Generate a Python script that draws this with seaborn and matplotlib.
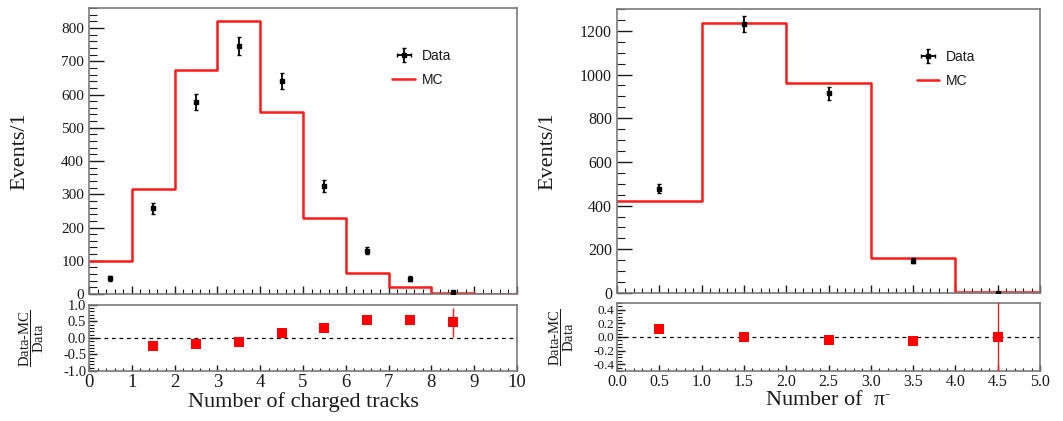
import numpy as np
import pandas as pd
import matplotlib
matplotlib.use("Agg")
import matplotlib.pyplot as plt
import seaborn as sns
from matplotlib.ticker import MultipleLocator, FormatStrFormatter

# ---------------- data ----------------
trk_edges = [0, 1, 2, 3, 4, 5, 6, 7, 8, 9, 10]
trk_centers = [0.5, 1.5, 2.5, 3.5, 4.5, 5.5, 6.5, 7.5, 8.5, 9.5]
trk_mc = [100, 316, 675, 820, 548, 230, 62, 20, 3, 1]
trk_data_x = [0.5, 1.5, 2.5, 3.5, 4.5, 5.5, 6.5, 7.5, 8.5]
trk_data = [47, 258, 578, 745, 641, 324, 130, 46, 6]
trk_data_err = [7, 16, 24, 27, 25, 18, 11, 7, 2.5]
trk_ratio_x = [1.5, 2.5, 3.5, 4.5, 5.5, 6.5, 7.5, 8.5]
trk_ratio = [-0.23, -0.17, -0.12, 0.14, 0.29, 0.53, 0.54, 0.47]
trk_ratio_err = [0.03, 0.03, 0.03, 0.04, 0.05, 0.06, 0.10, 0.45]

pi_edges = [0, 1, 2, 3, 4, 5]
pi_centers = [0.5, 1.5, 2.5, 3.5, 4.5]
pi_mc = [420, 1237, 962, 158, 3]
pi_data_x = [0.5, 1.5, 2.5, 3.5, 4.5]
pi_data = [478, 1232, 915, 148, 2]
pi_data_err = [22, 35, 30, 12, 1.5]
pi_ratio_x = [0.5, 1.5, 2.5, 3.5, 4.5]
pi_ratio = [0.12, 0.0, -0.04, -0.06, 0.0]
pi_ratio_err = [0.02, 0.02, 0.03, 0.06, 0.7]

# ---------------- style ----------------
sns.set_theme(style="white")
plt.rcParams["font.family"] = ["Liberation Serif", "DejaVu Serif"]
plt.rcParams["mathtext.fontset"] = "custom"
plt.rcParams["mathtext.rm"] = "Liberation Serif"
plt.rcParams["mathtext.it"] = "Liberation Serif:italic"
TXT = "#1a1a1a"
SPINE = "#7a7a7a"

fig = plt.figure(figsize=(10.63, 4.21), dpi=100)
axL = fig.add_axes([0.0837, 0.3017, 0.4026, 0.679])
axLr = fig.add_axes([0.0837, 0.1188, 0.4026, 0.157])
axR = fig.add_axes([0.5804, 0.304, 0.398, 0.6746])
axRr = fig.add_axes([0.5804, 0.1188, 0.398, 0.1615])


def style_axes(ax, xmaj, xmin, ymaj, ymin, xmj_len, xmn_len, ymj_len, ymn_len):
    for s in ax.spines.values():
        s.set_color(SPINE)
        s.set_linewidth(1.2)
    ax.xaxis.set_major_locator(MultipleLocator(xmaj))
    ax.xaxis.set_minor_locator(MultipleLocator(xmin))
    ax.yaxis.set_major_locator(MultipleLocator(ymaj))
    ax.yaxis.set_minor_locator(MultipleLocator(ymin))
    ax.tick_params(axis="x", which="major", direction="in", length=xmj_len, width=1, color=TXT,
                   top=False, bottom=True, colors=TXT)
    ax.tick_params(axis="x", which="minor", direction="in", length=xmn_len, width=0.8, color=TXT,
                   top=False, bottom=True)
    ax.tick_params(axis="y", which="major", direction="in", length=ymj_len, width=1, color=TXT,
                   left=True, right=False, colors=TXT)
    ax.tick_params(axis="y", which="minor", direction="in", length=ymn_len, width=0.8, color=TXT,
                   left=True, right=False)


def draw_main(ax, edges, centers, mc, dx, dy, derr, xmax, ymax):
    sns.histplot(x=centers, weights=mc, bins=edges, element="step", fill=False,
                 color="#ff1a1a", linewidth=1.8, ax=ax, label="MC")
    ax.errorbar(dx, dy, yerr=derr, xerr=[0] * len(dx), fmt="s", color="black", ms=3.5,
                elinewidth=1.3, capsize=1.5, capthick=1, label="Data", zorder=5)
    ax.set_xlim(0, xmax)
    ax.set_ylim(0, ymax)
    ax.set_xlabel("")
    ax.set_ylabel("Events/1", fontsize=16, color=TXT)
    ax.tick_params(axis="x", labelbottom=False)
    h, l = ax.get_legend_handles_labels()
    order = [l.index("Data"), l.index("MC")]
    ax.legend([h[i] for i in order], [l[i] for i in order], loc="upper left",
              bbox_to_anchor=(0.68, 0.9), frameon=False,
              prop={"family": "Liberation Sans", "size": 10}, handlelength=1.6,
              labelspacing=0.7, handletextpad=0.5, labelcolor=TXT)


def draw_ratio(ax, rx, ry, rerr, xmax, ylim):
    ax.axhline(0, color="black", lw=0.9, ls=(0, (3, 3)))
    ax.errorbar(rx, ry, yerr=rerr, fmt="none", ecolor="#ff1a1a", elinewidth=1.0, zorder=3)
    df = pd.DataFrame({"x": rx, "y": ry})
    sns.scatterplot(data=df, x="x", y="y", marker="s", s=55, color="#ff0000",
                    edgecolor="#ff0000", linewidth=0, ax=ax, zorder=4)
    ax.set_xlim(0, xmax)
    ax.set_ylim(*ylim)
    ax.set_ylabel(r"$\dfrac{\mathrm{Data\text{-}MC}}{\mathrm{Data}}$", fontsize=10.5, color=TXT)


# ---- left ----
draw_main(axL, trk_edges, trk_centers, trk_mc, trk_data_x, trk_data, trk_data_err, 10, 860)
style_axes(axL, 1, 0.2, 100, 20, 6, 3.5, 11, 6)
axL.tick_params(axis="y", labelsize=11)
axL.yaxis.set_label_coords(-0.14, 0.5)

draw_ratio(axLr, trk_ratio_x, trk_ratio, trk_ratio_err, 10, (-1.0, 1.0))
style_axes(axLr, 1, 0.2, 0.5, 0.1, 4, 2.5, 6, 3.5)
axLr.tick_params(axis="y", labelsize=10.5, pad=2)
axLr.tick_params(axis="x", labelsize=13.5, pad=2)
axLr.yaxis.set_major_formatter(FormatStrFormatter("%.1f"))
axLr.yaxis.set_label_coords(-0.1, 0.5)
axLr.set_xlabel("Number of charged tracks", fontsize=16, color=TXT, labelpad=1)

# ---- right ----
draw_main(axR, pi_edges, pi_centers, pi_mc, pi_data_x, pi_data, pi_data_err, 5, 1300)
style_axes(axR, 0.5, 0.1, 200, 50, 6, 3.5, 11, 6)
axR.tick_params(axis="y", labelsize=11.5)
axR.yaxis.set_label_coords(-0.14, 0.5)

draw_ratio(axRr, pi_ratio_x, pi_ratio, pi_ratio_err, 5, (-0.5, 0.5))
style_axes(axRr, 0.5, 0.1, 0.2, 0.05, 4, 2.5, 6, 3.5)
axRr.tick_params(axis="y", labelsize=9.5, pad=2)
axRr.tick_params(axis="x", labelsize=11.5, pad=2)
axRr.xaxis.set_major_formatter(FormatStrFormatter("%.1f"))
axRr.yaxis.set_major_formatter(FormatStrFormatter("%.1f"))
axRr.yaxis.set_label_coords(-0.097, 0.5)
axRr.set_xlabel(r"Number of  $\mathrm{\pi}^{\text{-}}$", fontsize=16, color=TXT, labelpad=1)

fig.savefig("out.png", dpi=100)
